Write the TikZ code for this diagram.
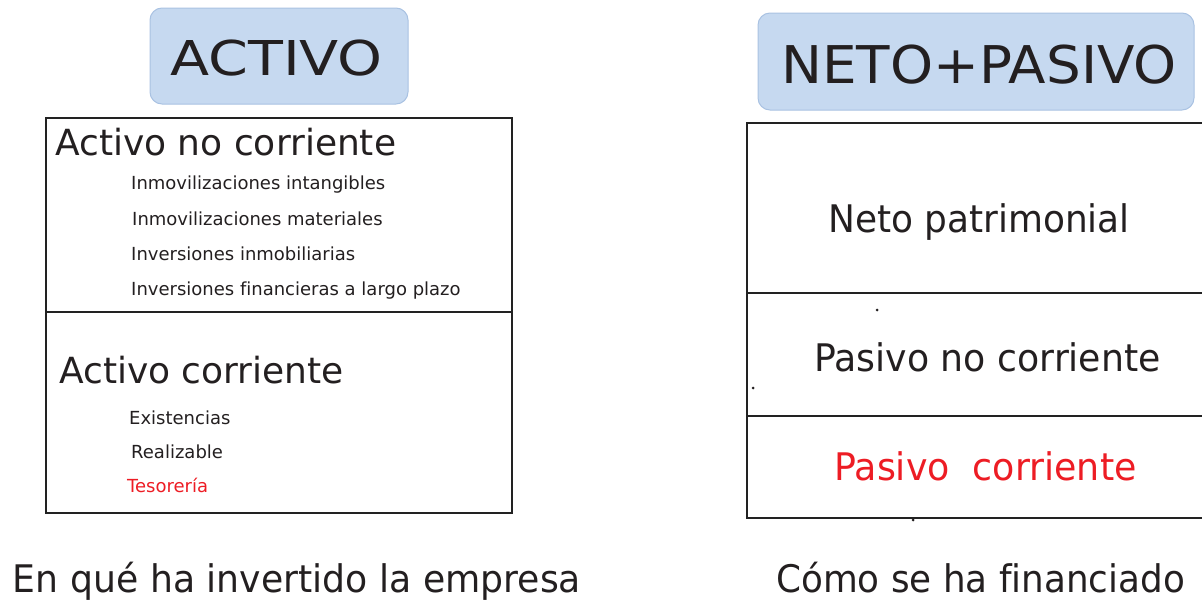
\documentclass[tikz,border=0pt]{standalone}
\usepackage{fontspec}
\usepackage{graphicx}
\setmainfont{DejaVu Sans}[Ligatures=NoCommon]
\definecolor{ink}{HTML}{231F20}
\definecolor{redtxt}{HTML}{ED1C24}
\definecolor{hdrfill}{HTML}{C6D9F0}
\definecolor{hdrline}{HTML}{A9C2E2}
\definecolor{boxline}{HTML}{222222}
\newcommand{\sxx}[2]{\scalebox{#1}[1]{#2}}
\tikzset{
  hdr/.style={draw=hdrline, line width=1pt, fill=hdrfill, rounded corners=12pt, inner sep=0pt},
  tbl/.style={draw=boxline, line width=2.8pt},
  big/.style={font=\fontsize{36}{42}\selectfont, text=ink, inner sep=0pt, anchor=base west},
  mid/.style={font=\fontsize{38}{44}\selectfont, text=ink, inner sep=0pt, anchor=base},
  small/.style={font=\fontsize{18}{21}\selectfont, text=ink, inner sep=0pt, anchor=base west},
  captxt/.style={font=\fontsize{38}{44}\selectfont, text=ink, inner sep=0pt, anchor=base},
  speck/.style={fill=ink, inner sep=0pt, minimum size=3pt, circle},
}
\begin{document}
\begin{tikzpicture}[x=1pt,y=-1pt]
\useasboundingbox (0,0) rectangle (1202,600);
% headers
\node[hdr, minimum width=258pt, minimum height=96pt] (hA) at (279,56) {};
\node[font=\fontsize{48}{56}\selectfont, text=ink, inner sep=0pt, anchor=base] (tA) at (276.5,75) {\sxx{1.19}{ACTIVO}};
\node[hdr, minimum width=436pt, minimum height=97pt] (hB) at (976,61.5) {};
\node[font=\fontsize{52}{60}\selectfont, text=ink, inner sep=0pt, anchor=base] (tB) at (979,83) {\sxx{1.053}{NETO+PASIVO}};
% left table
\coordinate (L1) at (46,118);
\coordinate (L2) at (512,513);
\coordinate (Lm1) at (46,312);
\coordinate (Lm2) at (512,312);
\draw[tbl] (L1) rectangle (L2);
\draw[tbl] (Lm1) -- (Lm2);
\node[big] (anc) at (55,155) {Activo no corriente};
\node[small] (i1) at (131,189) {Inmovilizaciones intangibles};
\node[small] (i2) at (132,225) {Inmovilizaciones materiales};
\node[small] (i3) at (131,260) {Inversiones inmobiliarias};
\node[small] (i4) at (131,295.5) {Inversiones financieras a largo plazo};
\node[big] (ac) at (59,383) {Activo corriente};
\node[small] (e1) at (129,424) {Existencias};
\node[small] (e2) at (131,458) {Realizable};
\node[small, text=redtxt] (e3) at (127,492) {Tesorería};
% right table
\coordinate (R1) at (747,123);
\coordinate (R2) at (1202,123);
\coordinate (R3) at (747,518);
\coordinate (R4) at (1202,518);
\coordinate (Rm1) at (747,293);
\coordinate (Rm2) at (1202,293);
\coordinate (Rn1) at (747,416);
\coordinate (Rn2) at (1202,416);
\draw[tbl] (R2) -- (R1) -- (R3) -- (R4);
\draw[tbl] (Rm1) -- (Rm2);
\draw[tbl] (Rn1) -- (Rn2);
\node[mid] (np) at (979,232) {\sxx{0.945}{Neto patrimonial}};
\node[mid] (pnc) at (987.5,371) {\sxx{0.954}{Pasivo no corriente}};
\node[mid, text=redtxt] (pc) at (985.5,480) {\sxx{0.957}{Pasivo\ \ corriente}};
\node[speck] (s1) at (877,310) {};
\node[speck] (s2) at (753,388) {};
\node[speck] (s3) at (913,520) {};
% captions
\node[captxt] (c1) at (297,592) {\sxx{0.953}{En qué ha invertido la empresa}};
\node[captxt] (c2) at (980.5,592) {\sxx{0.941}{Cómo se ha financiado}};
\end{tikzpicture}
\end{document}
